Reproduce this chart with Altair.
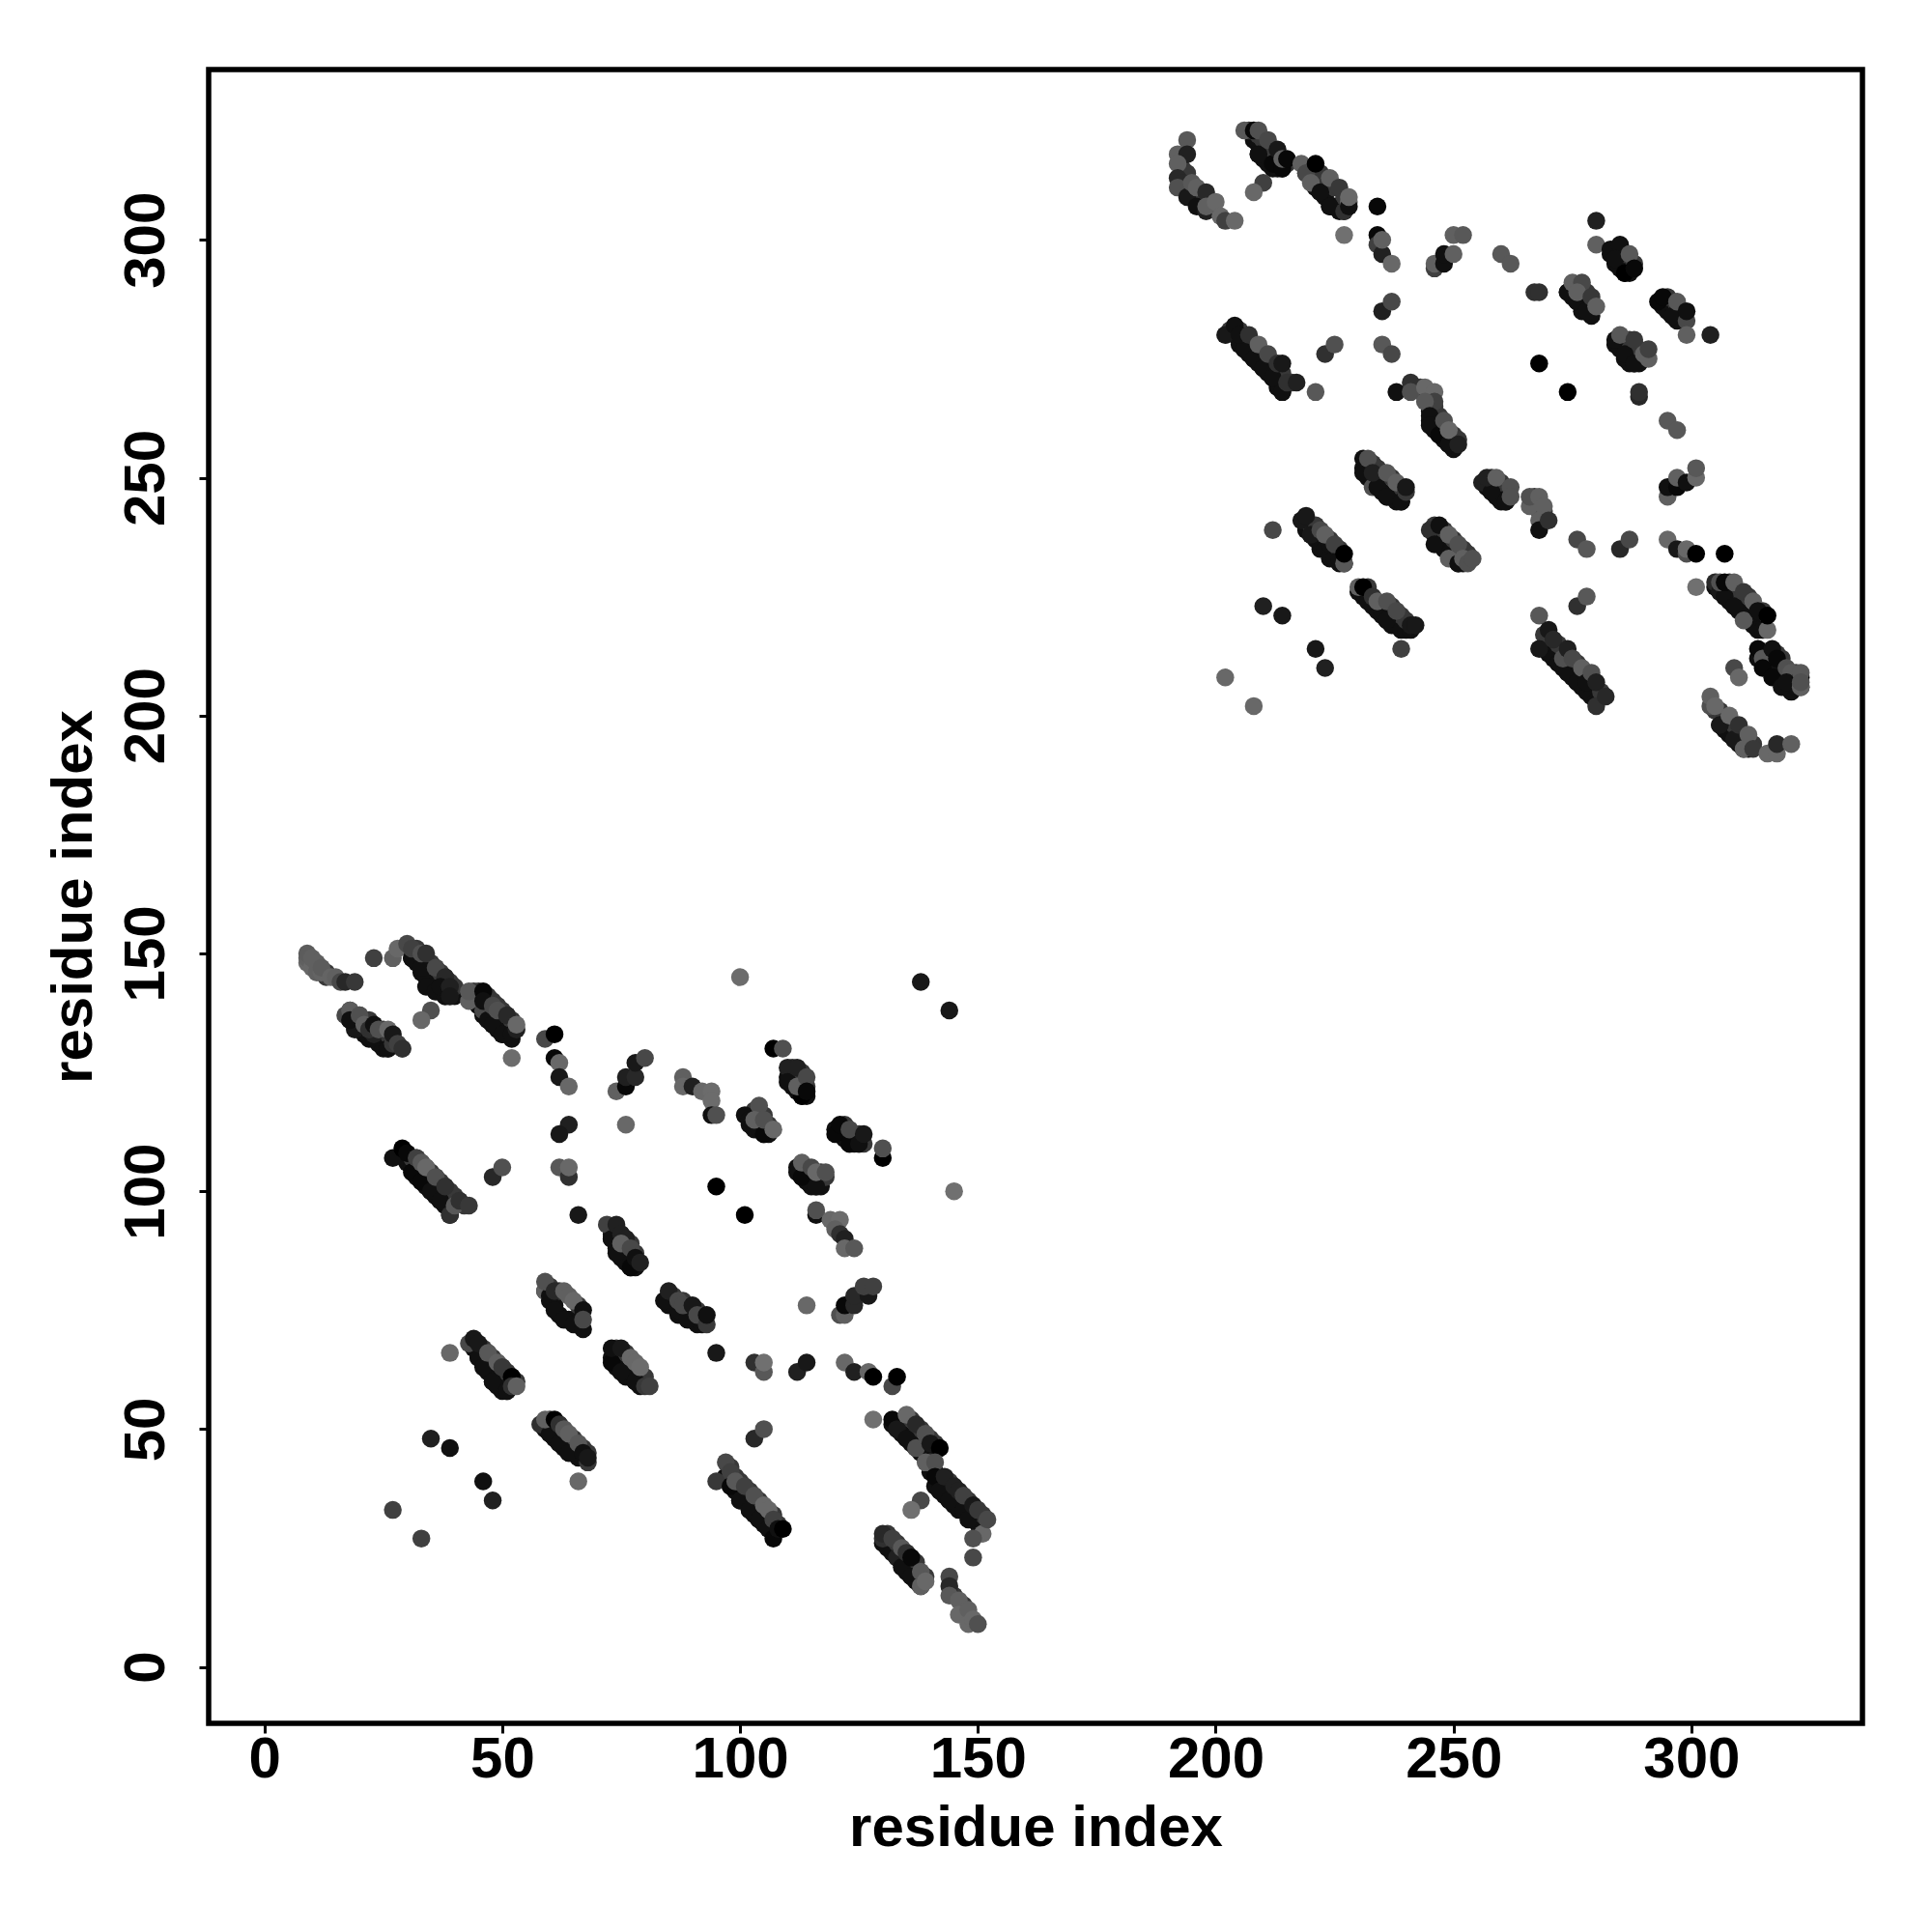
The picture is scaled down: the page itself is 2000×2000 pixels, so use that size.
import altair as alt
import pandas as pd

# Points hidden inside the thick bands: (i, j), read along each band's edges and drawn first
band_low_edge = [
 (18,136),(19,135),(20,134),(21,133),(22,132),(23,132),(24,131),(25,130),(26,130),
 (31,149),(32,148),(33,146),(34,145),(35,143),(36,142),(37,142),(38,141),(39,141),(40,141),
 (44,140),(45,139),(46,137),(47,136),(48,135),(49,134),(50,133),(51,133),(52,132),
 (30,106),(31,105),(32,103),(33,102),(34,101),(35,100),(36,99),(37,98),(38,97),(39,96),(39,95),
 (73,91),(73,90),(74,88),(75,86),(76,85),(77,84),(78,84),
 (44,67),(45,65),(46,64),(47,62),(48,60),(49,59),(50,58),(51,58),
 (59,79),(60,77),(61,76),(62,74),(63,73),(64,73),(65,73),(66,72),
 (85,76),(86,76),(87,74),(88,74),(89,73),(90,73),(91,72),(92,72),
 (59,50),(60,49),(61,48),(62,47),(63,46),(64,45),(65,45),(66,44),(67,44),
 (73,65),(74,63),(75,62),(76,61),(77,61),(78,60),(79,59),
 (102,114),(103,113),(104,113),(105,112),(106,112),
 (110,124),(111,122),(112,121),(113,120),(114,120),
 (120,113),(121,112),(122,111),(123,110),(124,110),(125,110),
 (112,104),(113,103),(114,102),(115,101),(116,101),(117,101),
 (132,51),(133,50),(134,49),(135,48),(136,47),(137,46),(138,45),(139,44),
 (141,38),(142,37),(143,36),(144,35),(145,34),(146,33),(147,33),(148,32),(149,31),(150,30),(140,41),(141,41),
 (130,26),(131,25),(132,24),(133,23),(134,22),(135,20),(136,19),(137,18),(138,17),
 (97,40),(98,38),(99,37),(100,35),(101,35),(102,33),(103,32),(104,31),(105,30),(106,29),(107,28),
 (208,321),(209,320),(209,318),(210,317),(211,316),(212,315),(213,315),(214,315),
 (219,314),(220,313),(221,311),(222,310),(223,309),(224,307),(225,307),(226,306),(227,306),
 (204,280),(205,278),(206,277),(207,276),(208,275),(209,274),(210,273),(211,272),(212,271),(213,269),(214,268),
 (245,264),(245,262),(246,260),(247,259),(248,258),(249,257),(250,256),
 (274,289),(275,288),(276,287),(277,285),(278,285),(279,284),
 (283,297),(284,295),(285,294),(286,293),(287,293),
 (294,286),(295,285),(296,284),(297,283),(298,283),
 (284,278),(285,277),(286,275),(287,274),(288,274),(289,274),
 (231,252),(232,250),(233,249),(234,248),(235,247),(236,246),(237,246),(238,245),(239,245),
 (219,239),(220,238),(221,237),(222,235),(223,235),(224,233),(225,233),(226,232),(227,232),
 (231,225),(232,224),(233,223),(234,222),(235,221),(236,220),(237,219),(238,219),(239,218),(240,218),(241,218),
 (246,238),(247,236),(248,235),(249,234),(250,233),(251,232),(252,232),
 (257,248),(258,247),(259,246),(260,245),(261,245),
 (269,214),(270,213),(271,212),(272,211),(273,210),(274,209),(275,208),(276,207),(277,206),(278,205),(279,204),(280,203),
 (305,227),(306,226),(307,225),(308,224),(309,223),(310,222),(311,221),(312,220),(313,219),(314,218),(315,218),
 (314,212),(315,211),(316,210),(317,209),(318,208),(319,207),(320,206),(321,205),(322,206),(323,206),
 (306,198),(307,197),(308,196),(309,195),(310,194),(311,193),(312,193),
]
band_high_edge = [
 (13,146),(13,145),(18,138),(19,137),(20,137),(21,136),(22,136),(23,135),(24,134),(25,134),(26,133),(27,132),(28,131),(29,130),
 (31,151),(32,151),(33,150),(34,149),(35,148),(36,147),(37,146),(38,145),(39,144),(40,143),
 (44,142),(45,142),(47,141),(48,140),(49,139),(50,138),(51,137),(52,136),
 (31,107),(32,107),(33,106),(34,105),(35,104),(36,103),(37,102),(38,101),(39,100),(40,99),(41,98),(42,97),
 (75,91),(76,90),(77,89),(78,87),
 (46,67),(47,66),(48,65),(49,64),(50,63),(51,62),(52,61),(53,60),
 (60,80),(62,79),(66,76),
 (86,78),(88,77),(89,76),(91,75),(92,74),
 (60,52),(62,51),(65,48),(67,46),(68,45),
 (74,67),(76,66),(80,61),
 (102,116),(103,117),(105,116),(106,114),
 (111,126),(113,125),(114,122),
 (122,114),(124,112),(125,112),(126,110),
 (114,105),(117,104),(118,103),
 (136,52),(138,50),(140,48),(141,47),(140,43),
 (144,39),(148,35),(151,32),
 (131,28),(133,26),(137,22),(139,19),
 (145,15),(147,12),(147,13),
 (98,42),(99,40),(100,39),(102,37),(104,35),(107,32),(108,30),
 (193,315),(194,314),(194,312),(195,310),(196,309),(197,309),(197,307),(199,308),(199,307),
 (207,323),(209,322),(210,321),(212,319),(213,318),(215,316),
 (220,315),(222,314),(223,313),(225,311),(227,309),
 (203,281),(205,281),(206,280),(208,278),(210,276),(212,274),(214,272),(216,270),
 (242,269),(243,269),(244,268),(245,265),(244,267),(246,265),(247,263),(250,259),(251,258),
 (276,290),(278,289),
 (286,297),(288,295),(295,288),(297,286),(298,285),(286,279),(287,279),(289,277),
 (233,253),(234,252),(235,251),(237,250),(239,248),
 (220,240),(221,240),(224,237),(226,235),
 (232,227),(237,223),(239,221),(240,220),
 (246,240),(248,239),(250,237),(252,235),(253,234),
 (258,250),(260,249),(267,246),(267,244),(268,243),(269,243),(268,245),
 (269,217),(272,215),(276,211),(278,209),(281,205),
 (308,228),(310,226),(312,225),(315,222),
 (318,213),(319,212),(322,209),
 (305,201),(306,201),(307,200),(309,198),(310,197),(311,196),(312,195),(313,194),
]

# (residue i, residue j, grey level 0-255), in drawing order
lower_above = [
 (9,148,0x68),(9,149,0x60),(10,147,0x68),(9,150,0x5c),(11,146,0x60),(10,149,0x60),(11,148,0x60),(12,146,0x64),(12,147,0x5c),(14,145,0x64),(15,145,0x60),(16,144,0x48),(17,144,0x28),(19,144,0x38),
 (17,137,0x48),(18,138,0x5c),(19,134,0x18),(18,136,0x10),(20,137,0x50),(21,135,0x60),(23,133,0x20),(22,134,0x30),(23,135,0x10),(24,134,0x50),(26,130,0x10),(26,134,0x68),(27,131,0x38),(27,133,0x18),(28,131,0x40),(29,130,0x30),
 (23,149,0x40),(27,149,0x60),(28,151,0x68),(31,149,0x10),(33,147,0x10),(34,143,0x10),(36,142,0x10),(38,141,0x10),(30,152,0x48),(31,151,0x40),(33,150,0x50),(34,150,0x30),(36,147,0x48),(38,145,0x28),(37,143,0x10),(39,143,0x20),(39,141,0x18),
 (35,138,0x50),(33,136,0x68),
 (43,140,0x60),(43,142,0x58),(46,142,0x08),(46,138,0x48),(47,136,0x10),(48,135,0x10),(50,133,0x10),(52,133,0x10),(46,140,0x10),(48,139,0x48),(49,138,0x50),(51,137,0x28),(53,134,0x20),(53,135,0x68),
 (52,128,0x6c),(59,132,0x48),(61,133,0x00),(61,128,0x08),(62,127,0x68),(62,124,0x18),(64,122,0x68),
 (74,121,0x60),(76,122,0x08),(76,124,0x20),(78,124,0x28),(78,127,0x18),(80,128,0x48),
 (88,124,0x60),(88,122,0x68),(90,122,0x20),(92,121,0x68),(94,121,0x6c),(94,119,0x6c),(94,116,0x10),(95,116,0x50),
 (76,114,0x68),(100,145,0x6c),(64,114,0x20),(62,112,0x18),(62,105,0x58),(64,103,0x30),(64,105,0x68),
 (27,107,0x10),(31,104,0x08),(33,102,0x08),(35,100,0x10),(37,98,0x10),(39,95,0x30),(29,109,0x00),(30,108,0x08),(32,107,0x40),(33,106,0x58),(34,105,0x68),(36,103,0x50),(38,101,0x30),(40,97,0x58),(41,98,0x30),(43,97,0x38),
 (48,103,0x28),(50,105,0x50),(66,95,0x18),
 (72,93,0x40),(73,90,0x10),(74,87,0x10),(74,93,0x20),(75,91,0x20),(76,90,0x20),(75,89,0x60),(77,84,0x08),(77,88,0x48),(78,86,0x10),(79,85,0x20),
 (95,101,0x00),(101,95,0x00),
 (39,66,0x68),(43,68,0x48),(45,65,0x10),(46,63,0x10),(48,60,0x10),(51,58,0x10),(44,69,0x18),(45,68,0x18),(47,66,0x58),(49,64,0x60),(50,63,0x38),(52,61,0x00),(52,59,0x30),(53,59,0x60),
 (35,48,0x20),(39,46,0x10),(46,39,0x10),(48,35,0x20),(27,33,0x40),(33,27,0x40),
 (58,51,0x30),(60,49,0x10),(62,47,0x10),(64,45,0x10),(68,43,0x38),(59,52,0x60),(61,52,0x00),(62,51,0x30),(63,50,0x58),(64,49,0x60),(66,47,0x58),(67,45,0x10),(68,44,0x18),(66,39,0x68),
 (59,79,0x60),(60,78,0x10),(61,75,0x10),(63,73,0x10),(65,72,0x10),(67,71,0x10),(59,81,0x50),(61,79,0x28),(63,79,0x60),(64,78,0x60),(65,77,0x68),(67,75,0x10),(67,73,0x48),
 (73,64,0x08),(75,62,0x10),(78,60,0x10),(73,67,0x10),(75,67,0x18),(77,65,0x68),(78,64,0x68),(79,63,0x6c),(80,59,0x38),(81,59,0x40),
 (84,77,0x10),(87,75,0x10),(89,73,0x10),(85,79,0x20),(87,77,0x48),(88,76,0x48),(90,76,0x18),(91,74,0x48),(93,72,0x38),(93,74,0x10),
 (95,66,0x18),
 (103,64,0x30),(105,62,0x58),(105,64,0x70),(112,62,0x20),(114,64,0x18),
 (101,116,0x10),(102,115,0x10),(105,112,0x08),(104,118,0x50),(103,115,0x60),(105,115,0x50),(107,113,0x68),
 (107,130,0x00),(109,130,0x50),(110,126,0x20),(110,123,0x10),(112,126,0x20),(113,120,0x00),(112,122,0x60),(114,124,0x48),(114,121,0x08),
 (120,112,0x08),(121,114,0x08),(123,110,0x08),(123,113,0x48),(125,110,0x10),(126,112,0x18),(130,107,0x00),(130,109,0x50),
 (112,105,0x10),(113,103,0x08),(113,106,0x60),(115,105,0x48),(116,101,0x10),(116,104,0x68),(118,104,0x50),
 (116,95,0x10),(116,96,0x50),(119,94,0x68),(121,94,0x6c),(120,92,0x60),(121,91,0x30),(122,90,0x20),(122,88,0x68),(124,88,0x58),
 (121,74,0x50),(122,74,0x60),(122,76,0x08),(124,76,0x28),(124,78,0x28),(127,78,0x18),(126,80,0x40),(128,80,0x40),
 (114,76,0x68),(138,144,0x18),(144,138,0x18),(145,100,0x70),
 (122,64,0x68),(124,62,0x20),(127,62,0x68),(128,61,0x00),(132,59,0x48),(133,61,0x00),
 (128,52,0x70),
]

lower_below = [
 (132,52,0x08),(133,50,0x18),(135,48,0x10),(137,46,0x50),(139,43,0x60),(135,53,0x68),(137,51,0x28),(139,49,0x50),(140,47,0x18),(142,46,0x00),(141,43,0x50),
 (141,40,0x08),(142,37,0x10),(144,35,0x10),(147,33,0x10),(143,40,0x20),(145,38,0x20),(146,37,0x20),(147,36,0x40),(148,31,0x10),(149,34,0x18),(150,33,0x38),(151,28,0x68),(149,27,0x50),(152,31,0x48),(149,23,0x48),
 (138,35,0x48),(136,33,0x70),
 (130,27,0x30),(130,28,0x28),(132,27,0x40),(133,23,0x20),(134,21,0x10),(136,19,0x10),(138,17,0x60),(134,25,0x58),(135,24,0x30),(136,23,0x08),(138,20,0x58),(139,18,0x68),
 (144,19,0x48),(144,17,0x28),(144,15,0x58),(146,14,0x60),(146,11,0x68),(148,12,0x60),(148,9,0x68),(149,10,0x68),(150,9,0x50),
 (103,48,0x28),(105,50,0x50),
 (95,39,0x38),(97,43,0x48),(98,41,0x40),(98,38,0x08),(100,35,0x10),(102,33,0x10),(104,31,0x10),(106,29,0x10),(107,27,0x08),(99,39,0x58),(101,38,0x40),(103,36,0x50),(105,34,0x68),(106,33,0x68),(107,31,0x40),(108,29,0x10),(109,29,0x00),
]

upper_above = [
 (194,321,0x58),(192,318,0x60),(194,318,0x20),(192,316,0x60),(192,313,0x28),(193,312,0x28),(192,311,0x50),(194,309,0x18),(196,307,0x10),(198,306,0x20),(195,312,0x58),(196,311,0x60),(198,310,0x28),(198,307,0x60),(200,308,0x68),(201,305,0x68),(202,304,0x40),(204,304,0x68),
 (206,323,0x58),(209,318,0x10),(212,316,0x08),(214,315,0x08),(208,323,0x08),(209,323,0x50),(211,321,0x48),(213,319,0x18),(214,317,0x60),(215,317,0x08),
 (210,312,0x40),(208,310,0x68),
 (218,316,0x60),(219,314,0x48),(220,312,0x60),(222,310,0x10),(224,307,0x10),(227,306,0x30),(221,316,0x00),(224,313,0x60),(226,311,0x38),(228,308,0x68),(228,307,0x10),(228,309,0x68),
 (227,301,0x70),(234,307,0x08),(234,301,0x08),(234,299,0x40),(235,297,0x20),(235,300,0x60),(237,295,0x68),
 (246,294,0x40),(246,295,0x60),(248,295,0x10),(248,297,0x10),(250,297,0x60),(250,301,0x60),(252,301,0x58),
 (260,297,0x58),(262,295,0x58),(235,285,0x20),(237,287,0x48),
 (202,280,0x18),(206,277,0x10),(208,275,0x10),(210,273,0x10),(212,271,0x10),(214,268,0x10),(204,282,0x10),(205,280,0x10),(207,280,0x30),(209,278,0x60),(211,276,0x48),(213,274,0x30),(214,274,0x18),(215,270,0x30),(217,270,0x20),(221,268,0x58),
 (223,276,0x30),(225,278,0x50),(235,278,0x58),(237,276,0x48),
 (238,268,0x10),(241,270,0x30),(241,268,0x50),(244,269,0x68),(246,268,0x68),(246,266,0x40),(244,266,0x58),(245,263,0x10),(245,261,0x10),(247,259,0x08),(249,257,0x10),(248,262,0x50),(249,260,0x68),(251,257,0x20),
 (267,289,0x30),(268,289,0x30),(274,289,0x10),(276,287,0x10),(278,285,0x10),(275,291,0x60),(277,291,0x48),(276,289,0x60),(279,288,0x38),(280,286,0x60),
 (280,304,0x20),(280,299,0x60),(283,298,0x10),(285,299,0x10),(284,296,0x10),(286,293,0x00),(287,297,0x58),(288,294,0x08),
 (293,287,0x08),(294,288,0x08),(296,284,0x10),(297,287,0x58),(299,283,0x48),(299,285,0x10),(299,280,0x60),(304,280,0x20),
 (284,279,0x10),(286,276,0x10),(288,274,0x10),(285,280,0x58),(288,279,0x38),(290,276,0x60),(291,275,0x60),(291,277,0x40),
 (268,274,0x00),(274,268,0x00),(289,267,0x28),(289,268,0x30),(295,262,0x58),(297,260,0x58),
 (295,246,0x60),(295,248,0x10),(297,248,0x08),(297,250,0x60),(299,249,0x10),(301,250,0x68),(301,252,0x58),
 (231,254,0x10),(231,251,0x10),(232,254,0x50),(233,248,0x50),(234,248,0x10),(236,246,0x10),(239,245,0x10),(233,251,0x20),(236,251,0x58),(238,249,0x60),(240,247,0x38),(240,248,0x18),
 (212,239,0x48),(218,241,0x18),(219,242,0x18),(220,238,0x18),(224,236,0x10),(226,233,0x10),(222,239,0x48),(223,238,0x60),(225,236,0x40),(227,232,0x58),(227,234,0x00),
 (230,226,0x10),(232,224,0x10),(235,222,0x10),(236,220,0x10),(230,227,0x60),(231,227,0x00),(233,225,0x30),(234,224,0x60),(236,224,0x50),(238,222,0x48),(241,219,0x18),(242,219,0x18),
 (239,214,0x40),(210,223,0x20),(214,221,0x18),(221,214,0x18),(223,210,0x20),(202,208,0x68),(208,202,0x68),
 (245,239,0x30),(246,236,0x10),(247,240,0x10),(249,233,0x60),(251,232,0x10),(249,238,0x60),(251,236,0x50),(252,233,0x60),(253,232,0x50),(254,233,0x50),
 (256,249,0x20),(258,247,0x10),(261,245,0x10),(257,250,0x20),(259,250,0x60),(262,248,0x50),(262,246,0x50),
 (266,244,0x60),(266,246,0x50),(268,246,0x60),(269,244,0x60),(268,241,0x60),(268,239,0x10),(270,241,0x30),
]

upper_below = [
 (268,221,0x58),(268,214,0x18),(270,218,0x18),(271,216,0x28),(272,211,0x10),(274,209,0x10),(276,207,0x10),(273,212,0x50),(274,214,0x20),(275,212,0x48),(277,210,0x60),(278,207,0x10),(279,209,0x50),(280,207,0x20),(280,202,0x30),(282,204,0x28),
 (276,223,0x30),(278,225,0x58),(276,237,0x48),(278,235,0x58),(285,235,0x28),(287,237,0x48),
 (295,237,0x68),(297,235,0x18),(299,234,0x50),(299,235,0x68),(301,234,0x00),(307,234,0x00),(301,227,0x70),
 (305,228,0x28),(306,226,0x18),(307,225,0x10),(309,223,0x10),(311,220,0x58),(306,228,0x50),(307,228,0x08),(309,228,0x60),(311,226,0x38),(313,224,0x60),(314,222,0x10),(316,218,0x68),(316,221,0x00),
 (309,210,0x48),(310,208,0x68),
 (314,214,0x08),(315,212,0x58),(315,210,0x08),(317,208,0x08),(319,206,0x10),(317,214,0x10),(318,212,0x08),(320,210,0x50),(321,209,0x58),(320,207,0x10),(323,206,0x60),(323,208,0x08),(323,209,0x58),(323,207,0x50),
 (304,202,0x50),(304,204,0x60),(305,202,0x68),(306,198,0x18),(308,200,0x68),(309,195,0x18),(310,198,0x30),(311,193,0x60),(312,196,0x60),(313,193,0x38),(316,192,0x68),(318,192,0x68),(318,194,0x28),(321,194,0x60),
]

GREY_LOW = 0x10
GREY_HIGH = 0x38
rows = (
    [(a, b, GREY_LOW) for a, b in band_low_edge]
    + [(a, b, GREY_HIGH) for a, b in band_high_edge]
    + lower_above + lower_below + upper_above + upper_below
)
df = pd.DataFrame(rows, columns=["i", "j", "g"])
df["c"] = ["#%02x%02x%02x" % (v, v, v) for v in df["g"]]

FONT = "Liberation Sans"
tick_values = [0, 50, 100, 150, 200, 250, 300]

chart = (
    alt.Chart(df)
    .mark_circle(size=342, opacity=1)
    .encode(
        x=alt.X(
            "i:Q",
            scale=alt.Scale(domain=[-11.72, 335.97], nice=False, zero=False),
            axis=alt.Axis(
                values=tick_values, title="residue index", grid=False, domain=False,
                tickColor="black", tickWidth=3, tickSize=10,
                labelFont=FONT, labelFontSize=60, labelFontWeight="bold", labelColor="black",
                labelPadding=-2, labelFlush=False, labelOverlap=False,
                titleFont=FONT, titleFontSize=60, titleFontWeight="bold", titleColor="black",
                titlePadding=12,
            ),
        ),
        y=alt.Y(
            "j:Q",
            scale=alt.Scale(domain=[-11.86, 335.8], nice=False, zero=False),
            axis=alt.Axis(
                values=tick_values, title="residue index", grid=False, domain=False,
                tickColor="black", tickWidth=3, tickSize=10,
                labelFont=FONT, labelFontSize=60, labelFontWeight="bold", labelColor="black",
                labelAngle=270, labelAlign="center", labelBaseline="bottom",
                labelPadding=24, labelFlush=False, labelOverlap=False,
                titleFont=FONT, titleFontSize=60, titleFontWeight="bold", titleColor="black",
                titlePadding=14,
            ),
        ),
        color=alt.Color("c:N", scale=None, legend=None),
    )
    .properties(
        width=1712, height=1712, background="white",
        autosize=alt.AutoSizeParams(type="none"),
        padding={"left": 208, "top": 64, "right": 60, "bottom": 200},
    )
    .configure_view(stroke="black", strokeWidth=5.5)
)

chart.save("out.html", embed_options={"renderer": "svg", "actions": False})
